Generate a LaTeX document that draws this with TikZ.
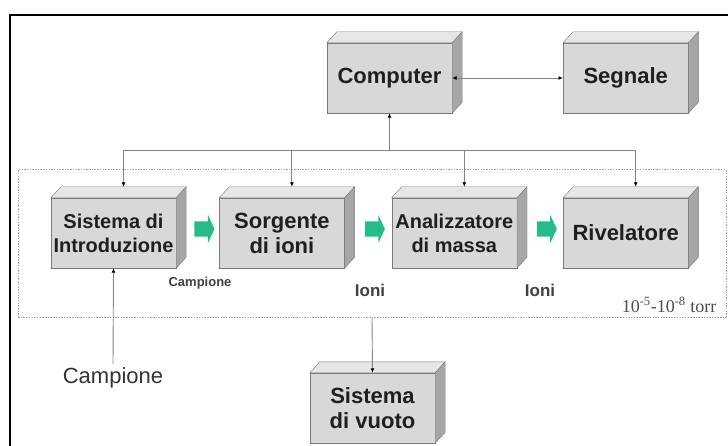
\documentclass[tikz,border=0pt]{standalone}
\usepackage{fontspec}
\setmainfont{Liberation Sans}
\newfontfamily\serifa{Liberation Serif}
\usepackage{xcolor}
\usetikzlibrary{positioning,arrows.meta,calc,shapes.arrows}

\definecolor{fronte}{HTML}{D8D8D8}
\definecolor{cima}{HTML}{E6E6E6}
\definecolor{fianco}{HTML}{A6A6A6}
\definecolor{bordo}{HTML}{7A7A7A}
\definecolor{verde}{HTML}{26BC8A}
\definecolor{filo}{HTML}{858585}

% top and side face of a block
\newcommand\facce[1]{%
  \draw[bordo, fill=cima] (#1.north west) -- ++(10,-11) -- ($(#1.north east)+(10,-11)$) -- (#1.north east) -- cycle;
  \draw[bordo, fill=fianco] (#1.north east) -- ++(10,-11) -- ($(#1.south east)+(10,-11)$) -- (#1.south east) -- cycle;}

\begin{document}
\begin{tikzpicture}[x=1pt, y=-1pt,
    blocco/.style={draw=bordo, fill=fronte, minimum width=125pt, minimum height=70pt, inner sep=2pt, align=center, text=black!88, font=\bfseries\fontsize{22}{25}\selectfont},
    piccolo/.style={blocco, font=\bfseries\fontsize{20}{24}\selectfont},
    camera/.style={draw=gray!70, dash pattern=on 1.5pt off 1.2pt, line width=1pt, minimum width=708pt, minimum height=147pt},
    passo/.style={single arrow, fill=verde, draw=none, minimum height=20pt, inner xsep=0pt, inner ysep=7.5pt, single arrow head extend=6.5pt, single arrow tip angle=130},
    etichetta/.style={text=black!80, font=\fontsize{22}{24}\selectfont},
    ioni/.style={text=black!75, font=\bfseries\fontsize{17}{19}\selectfont},
    linea/.style={draw=filo, line width=0.9pt},
    freccia/.style={linea, -{Latex[length=4.5pt, width=4pt, color=black]}}
  ]
  \useasboundingbox (0,0) rectangle (728,446);
  % frame
  \draw[line width=2.5pt] (10,446) -- (10,15) -- (728,15);
  % vacuum chamber
  \node[camera] (vuotoz) at (372,243.5) {};
  % blocks
  \node[piccolo] (sist) at (113.5,233) {Sistema di\\Introduzione};
  \node[blocco, right=43pt of sist] (sorg) {Sorgente\\di ioni};
  \node[piccolo, right=47pt of sorg] (anal) {Analizzatore\\di massa};
  \node[blocco, right=46pt of anal] (riv) {Rivelatore};
  \node[blocco] (comp) at (389.5,78) {Computer};
  \node[blocco] (segn) at (riv |- comp) {Segnale};
  \node[blocco] (vuoto) at (372.5,408) {Sistema\\di vuoto};
  \foreach \b in {sist,sorg,anal,riv,comp,segn,vuoto} {\facce{\b}}
  % green steps
  \node[passo] (p1) at ($(sist.east)!0.5!(sorg.west)+(5,-4)$) {};
  \node[passo] (p2) at ($(sorg.east)!0.5!(anal.west)+(5,-4)$) {};
  \node[passo] (p3) at ($(anal.east)!0.5!(riv.west)+(5,-4)$) {};
  % labels
  \node[etichetta] (camp) at (113,378) {Campione};
  \node[ioni, font=\bfseries\fontsize{13}{15}\selectfont] (camps) at (200,283) {Campione};
  \node[ioni] (ion1) at (370,290) {Ioni};
  \node[ioni] (ion2) at (540,290) {Ioni};
  \node[text=black!70, font=\serifa\fontsize{18}{20}\selectfont] (torr) at (669,305) {10\textsuperscript{-5}-10\textsuperscript{-8} torr};
  % bus to computer
  \coordinate (bus) at ($(comp.south)+(0,37)$);
  \foreach \b in {sist,sorg,anal,riv} {\coordinate (\b-t) at ($(\b.north)+(10,-11)$);}
  \draw[linea] (sist-t |- bus) -- (riv-t |- bus);
  \draw[freccia] (bus) -- (comp.south);
  \foreach \b in {sist,sorg,anal,riv} {\draw[freccia] (\b-t |- bus) -- (\b-t);}
  \draw[freccia, {Latex[length=4.5pt, width=4pt, color=black]}-{Latex[length=4.5pt, width=4pt, color=black]}] (comp.east) -- (segn.west);
  % sample and vacuum
  \draw[freccia] (camp.north) -- (sist.south);
  \draw[freccia] (vuotoz.south) -- (vuoto.north);
\end{tikzpicture}
\end{document}
